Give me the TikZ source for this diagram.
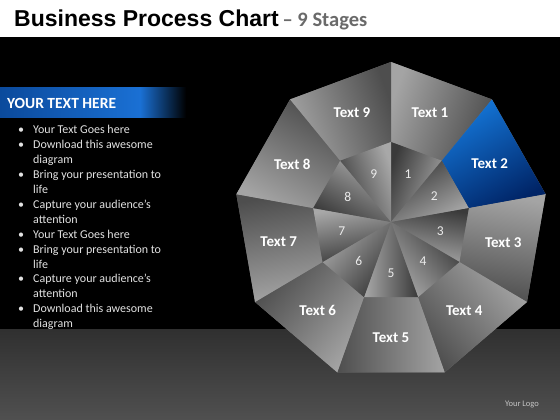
\documentclass[tikz,border=0pt]{standalone}
\usepackage{fontspec}
\setmainfont{Carlito}
\newfontfamily\titlefont{Liberation Sans}
\usetikzlibrary{calc}

\definecolor{segLight}{HTML}{A4A4A4}
\definecolor{segDark}{HTML}{4E4E4E}
\definecolor{segMid}{HTML}{777777}
\definecolor{hubLight}{HTML}{A8A8A8}
\definecolor{hubDark}{HTML}{3A3A3A}
\definecolor{blueLight}{HTML}{1476D8}
\definecolor{blueDark}{HTML}{002466}
\definecolor{barBlue}{HTML}{0B4A9C}
\definecolor{barGlow}{HTML}{1A70D4}
\definecolor{floorTop}{HTML}{303030}
\definecolor{floorBottom}{HTML}{505050}
\definecolor{subGrey}{HTML}{6A6A6A}
\definecolor{bulletGrey}{HTML}{E2E2E2}
\definecolor{logoGrey}{HTML}{C4C4C4}

\begin{document}
\begin{tikzpicture}[x=1pt,y=1pt]

    \tikzset{
      seglabel/.style={
        text=white,
        font=\fontsize{15}{18}\selectfont\bfseries,
        inner sep=0pt,
      },
      hublabel/.style={
        text=white!92!black,
        font=\fontsize{13.5}{15}\selectfont,
        inner sep=0pt,
      },
      bullettext/.style={
        text=bulletGrey,
        font=\fontsize{12}{14}\selectfont,
        anchor=base west,
        inner sep=0pt,
      },
    }
    \useasboundingbox (0,0) rectangle (560,420);
    % backdrop, floor and title band
    \fill[black] (0,0) rectangle (560,383);
    \fill[white] (0,383) rectangle (560,420);
    \shade[top color=floorTop, bottom color=floorBottom] (0,0) rectangle (560,90);
    \node[anchor=base west, inner sep=0pt] (title) at (14,393)
      {\fontsize{23}{27}\selectfont{\titlefont\bfseries Business Process Chart}\,{\color{subGrey}\bfseries\fontsize{20.5}{24}\selectfont – 9 Stages}};

    % side panel
    \shade[left color=barBlue, right color=barGlow] (0,302) rectangle (140,332);
    \shade[left color=barGlow, right color=black] (140,302) rectangle (186,332);
    \node[anchor=west, inner sep=0pt, text=white, font=\fontsize{15.5}{18}\selectfont\bfseries] (head) at (7,317) {YOUR TEXT HERE};
    \foreach \j/\b/\txt in {1/1/Your Text Goes here, 2/1/Download this awesome, 3/0/diagram,
        4/1/Bring your presentation to, 5/0/life, 6/1/Capture your audience’s, 7/0/attention,
        8/1/Your Text Goes here, 9/1/Bring your presentation to, 10/0/life,
        11/1/Capture your audience’s, 12/0/attention, 13/1/Download this awesome, 14/0/diagram} {
      \node[bullettext] (l\j) at (33,{286-14.9*(\j-1)}) {\txt};
      \ifnum\b=1
        \node[bullettext] (d\j) at (18,{286-14.9*(\j-1)}) {•};
      \fi
    }

    % nonagon
    \coordinate (c) at (391,198);
    \foreach \k in {1,...,10} {
      \coordinate (o\k) at ($(c)+({130-40*\k}:157 and 160)$);
      \coordinate (i\k) at ($(c)+({130-40*\k}:79 and 80)$);
    }
    \fill[segMid] (o1) -- (o2) -- (o3) -- (o4) -- (o5) -- (o6) -- (o7) -- (o8) -- (o9) -- cycle;
    \foreach \k/\lite/\dark in {1/segLight/segDark, 2/blueLight/blueDark, 3/segLight/segDark,
        4/segLight/segDark, 5/segLight/segDark, 6/segLight/segDark, 7/segLight/segDark,
        8/segLight/segDark, 9/segLight/segDark} {
      \pgfmathtruncatemacro\n{\k+1}
      \pgfmathsetmacro\m{110-40*\k}
      \shade[top color=\lite, bottom color=\dark, shading angle=\m] (o\k) -- (o\n) -- (i\n) -- (i\k) -- cycle;
      \shade[top color=hubDark, bottom color=hubLight, shading angle=\m] (c) -- (i\k) -- (i\n) -- cycle;
      \node[seglabel] (t\k) at ($(c)+(\m:114 and 116)$) {Text \k};
      \node[hublabel] (h\k) at ($(c)+(\m:50 and 51)$) {\k};
    }

    \node[inner sep=0pt, text=logoGrey, font=\fontsize{8.5}{10}\selectfont] (logo) at (522,15) {Your Logo};

\end{tikzpicture}
\end{document}
